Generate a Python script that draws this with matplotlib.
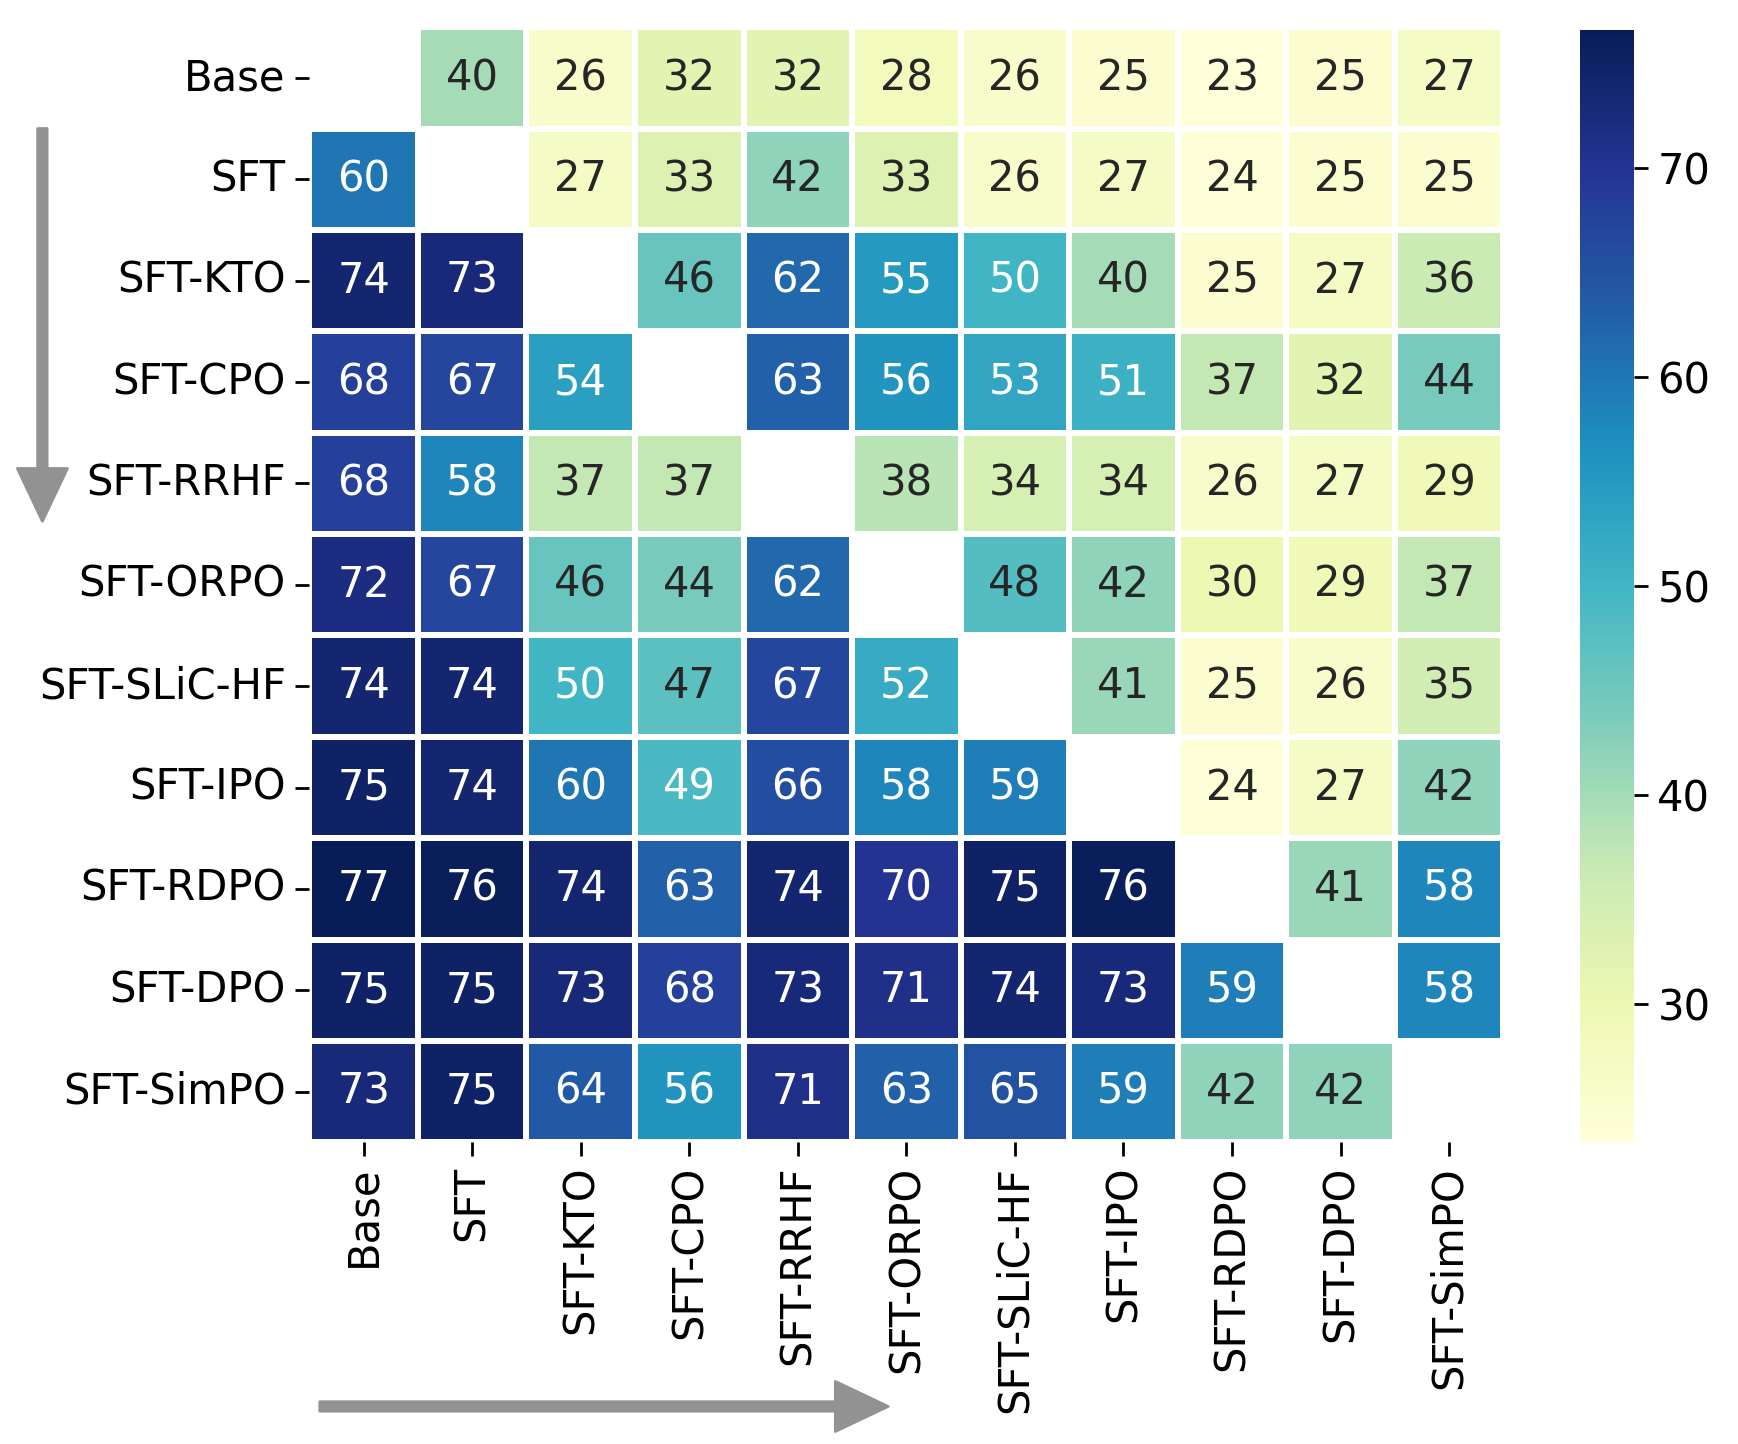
import numpy as np
import matplotlib
matplotlib.use("Agg")
import matplotlib.pyplot as plt
import matplotlib.patches as mpatches
import seaborn as sns

# model names (rows = first model, cols = second model)
models = ["Base", "SFT", "SFT-KTO", "SFT-CPO", "SFT-RRHF", "SFT-ORPO",
          "SFT-SLiC-HF", "SFT-IPO", "SFT-RDPO", "SFT-DPO", "SFT-SimPO"]

row_base = [np.nan, 40, 26, 32, 32, 28, 26, 25, 23.4, 25, 27]
row_sft = [60, np.nan, 27, 33, 42, 33, 26, 27, 24, 25, 25]
row_kto = [74, 73, np.nan, 46, 62, 55, 50, 40, 25, 27, 36]
row_cpo = [68, 67, 54, np.nan, 63, 56, 53, 51, 37, 32, 44]
row_rrhf = [68, 58, 37, 37, np.nan, 38, 34, 34, 26, 27, 29]
row_orpo = [72, 67, 46, 44, 62, np.nan, 48, 42, 30, 29, 37]
row_slic = [74, 74, 50, 47, 67, 52, np.nan, 41, 25, 26, 35]
row_ipo = [75, 74, 60, 49, 66, 58, 59, np.nan, 24, 27, 42]
row_rdpo = [76.6, 76, 74, 63, 74, 70, 75, 76, np.nan, 41, 58]
row_dpo = [75, 75, 73, 68, 73, 71, 74, 73, 59, np.nan, 58]
row_simpo = [73, 75, 64, 56, 71, 63, 65, 59, 42, 42, np.nan]

data = np.array([row_base, row_sft, row_kto, row_cpo, row_rrhf, row_orpo,
                 row_slic, row_ipo, row_rdpo, row_dpo, row_simpo])
mask = np.isnan(data)

plt.rcParams['font.family'] = ['DejaVu Sans']
fig = plt.figure(figsize=(8.69, 7.22), dpi=200)
ax = fig.add_axes([0.178, 0.209, 0.687, 0.772])
cax = fig.add_axes([0.909, 0.209, 0.031, 0.770])

sns.heatmap(data, mask=mask, cmap="YlGnBu", annot=True, fmt=".0f",
            linewidths=1.5, linecolor="white", ax=ax, cbar_ax=cax,
            annot_kws={"fontsize": 15},
            xticklabels=models, yticklabels=models)

ax.tick_params(axis='both', labelsize=15, length=5, width=1)
plt.setp(ax.get_xticklabels(), rotation=90)
plt.setp(ax.get_yticklabels(), rotation=0)
cax.tick_params(labelsize=15, length=5, width=1)

# direction arrows
arrow_color = "#929292"
style = "simple,head_length=19,head_width=18,tail_width=3.4"
fig.patches.append(mpatches.FancyArrowPatch(
    (0.0244, 0.911), (0.0244, 0.639), transform=fig.transFigure,
    arrowstyle=style, mutation_scale=1, color=arrow_color,
    shrinkA=0, shrinkB=0))
fig.patches.append(mpatches.FancyArrowPatch(
    (0.184, 0.026), (0.511, 0.026), transform=fig.transFigure,
    arrowstyle=style, mutation_scale=1, color=arrow_color,
    shrinkA=0, shrinkB=0))

fig.savefig("out.png", dpi=200)
